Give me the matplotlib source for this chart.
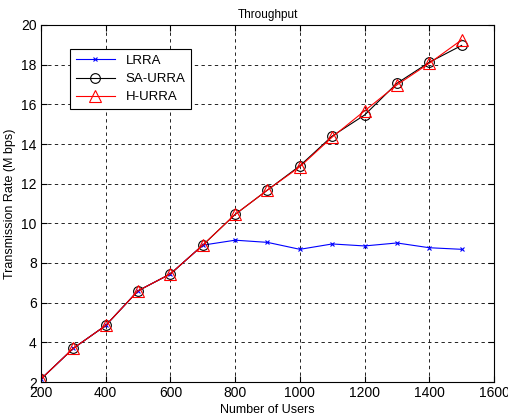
import matplotlib
matplotlib.use("Agg")
import matplotlib.pyplot as plt

users = [200, 300, 400, 500, 600, 700, 800, 900, 1000, 1100, 1200, 1300, 1400, 1500]
lrra = [2.15, 3.7, 4.85, 6.6, 7.45, 8.9, 9.15, 9.04, 8.69, 8.96, 8.86, 9.01, 8.77, 8.69]
sa_urra = [2.15, 3.7, 4.85, 6.6, 7.45, 8.9, 10.45, 11.68, 12.9, 14.4, 15.46, 17.06, 18.12, 18.97]
h_urra = [2.15, 3.7, 4.85, 6.6, 7.45, 8.9, 10.45, 11.68, 12.85, 14.35, 15.67, 16.98, 18.07, 19.25]

plt.rcParams['font.family'] = ['Liberation Sans', 'DejaVu Sans']

fig = plt.figure(figsize=(5.08, 4.2), dpi=100)
ax = fig.add_axes([41/508, 1-382/420, (494-41)/508, (382-25)/420])

ax.plot(users, lrra, color='blue', lw=0.8, marker='x', ms=3.5, mew=0.8, label='LRRA')
ax.plot(users, sa_urra, color='black', lw=0.8, marker='o', ms=7, mfc='none', mew=0.8, label='SA-URRA')
ax.plot(users, h_urra, color='red', lw=0.8, marker='^', ms=8, mfc='none', mew=0.8, label='H-URRA')

ax.set_xlim(200, 1600)
ax.set_ylim(2, 20)
ax.set_xticks(range(200, 1601, 200))
ax.set_yticks(range(2, 21, 2))
ax.grid(True, color='black', linestyle=(0, (4, 4)), lw=0.6)
ax.tick_params(direction='in', labelsize=10, length=4, top=True, right=True, pad=3)
for s in ax.spines.values():
    s.set_linewidth(0.8)
ax.set_xlabel('Number of Users', fontsize=9, labelpad=3)
ax.set_ylabel('Transmission Rate (M bps)', fontsize=9, labelpad=4)
ax.set_title('Throughput', fontsize=8.5, pad=5)

leg = ax.legend(loc='upper left', bbox_to_anchor=(0.05, 0.95), fontsize=9.5, fancybox=False,
                edgecolor='black', framealpha=1, handlelength=3, borderpad=0.4, labelspacing=0.45)
leg.get_frame().set_linewidth(0.8)

fig.savefig('out.png', dpi=100)
